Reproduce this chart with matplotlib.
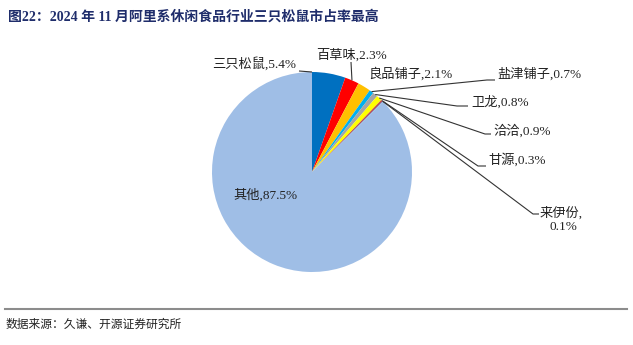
import matplotlib.pyplot as plt
import numpy as np

plt.rcParams['font.family'] = ['Liberation Serif', 'Noto Sans CJK SC', 'DejaVu Sans']

brands = ['三只松鼠', '百草味', '良品铺子', '盐津铺子', '卫龙', '洽洽', '甘源', '来伊份', '其他']
shares = [5.4, 2.3, 2.1, 0.7, 0.8, 0.9, 0.3, 0.1, 87.5]
colors = ['#0070C0', '#FF0000', '#FFC000', '#00B0F0', '#A5A5A5',
          '#FFFF00', '#C0504D', '#4472C4', '#9FBEE6']

# label layout in pixel coords (x, y from top), elbow point, text alignment
label_pos = {
    '三只松鼠': dict(text=(296, 64), ha='right', line=[(299, 71)]),
    '百草味': dict(text=(316, 55), ha='left', line=[(351, 62)]),
    '良品铺子': dict(text=(368, 74), ha='left', line=None),
    '盐津铺子': dict(text=(497, 74), ha='left', line=[(487, 80), (495, 80)]),
    '卫龙': dict(text=(471, 102), ha='left', line=[(457, 106), (468, 106)]),
    '洽洽': dict(text=(493, 131), ha='left', line=[(485, 134), (491, 134)]),
    '甘源': dict(text=(488, 160), ha='left', line=[(478, 166), (486, 166)]),
    '来伊份': dict(text=(540, 213), ha='left', line=[(533, 214), (539, 214)]),
    '其他': dict(text=(265, 195), ha='center', line=None),
}

W, H = 633, 345
cx, cy, R = 312, 172, 100


def to_data(px, py):
    return (px - cx) / R, (cy - py) / R


fig = plt.figure(figsize=(W / 100, H / 100), dpi=100)
ax = fig.add_axes([(cx - 300) / W, (H - cy - 150) / H, 600 / W, 300 / H])

wedges, _ = ax.pie(shares, colors=colors, startangle=90, counterclock=False,
                   radius=1, wedgeprops=dict(linewidth=0))
# pie() resets the limits, so set them afterwards
ax.set_xlim(-3, 3)
ax.set_ylim(-1.5, 1.5)
ax.set_aspect('equal')
ax.axis('off')

for w, name, val in zip(wedges, brands, shares):
    cfg = label_pos[name]
    tx, ty = to_data(*cfg['text'])
    if name == '来伊份':
        ax.text(tx, ty, f'{name},', ha='left', va='center', fontsize=9.5, color='#222222')
        ax.text(tx + 0.1, ty - 0.14, f'{val}%', ha='left', va='center', fontsize=9.5, color='#222222')
    else:
        ax.text(tx, ty, f'{name},{val}%', ha=cfg['ha'], va='center', fontsize=9.5, color='#222222')
    if cfg['line']:
        mid = np.deg2rad((w.theta1 + w.theta2) / 2)
        pts = [(np.cos(mid), np.sin(mid))] + [to_data(*p) for p in cfg['line']]
        if name == '三只松鼠':
            pts = [to_data(*cfg['line'][0]), (0, 1.0)]
        xs, ys = zip(*pts)
        ax.plot(xs, ys, color='#333333', lw=0.8, solid_capstyle='butt')

fig.text(8 / W, 1 - 17 / H, '图22：2024 年 11 月阿里系休闲食品行业三只松鼠市占率最高',
         ha='left', va='center', fontsize=10, fontweight='bold', color='#1F2D6B')
fig.add_artist(plt.Line2D([5 / W, 627 / W], [1 - 309 / H, 1 - 309 / H],
                          color='#8C8C8C', lw=1.5))
fig.text(6 / W, 1 - 325 / H, '数据来源：久谦、开源证券研究所',
         ha='left', va='center', fontsize=8.5, color='#222222')

fig.savefig('out.png', dpi=100)
